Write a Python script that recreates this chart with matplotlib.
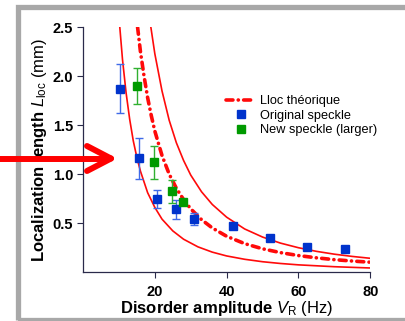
import matplotlib
matplotlib.use("Agg")
import matplotlib.pyplot as plt
from matplotlib.lines import Line2D
from matplotlib.patches import Rectangle

plt.rcParams['font.family'] = ['Liberation Sans', 'DejaVu Sans']
plt.rcParams['mathtext.fontset'] = 'custom'
plt.rcParams['mathtext.rm'] = 'Liberation Sans'
plt.rcParams['mathtext.it'] = 'Liberation Sans:italic'
plt.rcParams['mathtext.bf'] = 'Liberation Sans:bold'
plt.rcParams['lines.scale_dashes'] = False

# measurements: disorder amplitude (Hz), localization length (mm), error (mm)
orig_v = [10.2, 15.5, 20.7, 25.9, 31.0, 41.7, 52.0, 62.4, 73.0]
orig_l = [1.87, 1.16, 0.745, 0.64, 0.54, 0.475, 0.345, 0.255, 0.23]
orig_err = [0.25, 0.21, 0.09, 0.10, 0.06, 0.03, 0.0, 0.0, 0.0]

new_v = [14.9, 19.8, 24.8, 27.9]
new_l = [1.90, 1.12, 0.825, 0.715]
new_err = [0.18, 0.165, 0.12, 0.0]

# theory curve and its bounds
th_v = [15.2, 16, 17, 18, 19, 20, 22, 24, 26, 28, 30, 33, 36, 40, 45, 50, 55, 60, 65, 70, 75, 80]
th_l = [2.5, 2.25, 2.0, 1.78, 1.6, 1.44, 1.19, 1.0, 0.855, 0.74, 0.645, 0.535, 0.45, 0.365,
        0.29, 0.237, 0.198, 0.168, 0.145, 0.126, 0.112, 0.10]

hi_v = [18.9, 20, 22, 24, 26, 28, 30, 33, 36, 40, 45, 50, 55, 60, 65, 70, 75, 80]
hi_l = [2.5, 2.23, 1.85, 1.55, 1.32, 1.14, 0.99, 0.82, 0.69, 0.56, 0.44, 0.357, 0.295,
        0.248, 0.211, 0.182, 0.159, 0.14]

lo_v = [10.25, 11, 12, 13, 14, 15, 16, 18, 20, 22, 25, 28, 32, 36, 40, 45, 50, 55, 60, 70, 80]
lo_l = [2.5, 2.17, 1.83, 1.56, 1.34, 1.17, 1.03, 0.81, 0.66, 0.54, 0.42, 0.335, 0.257,
        0.203, 0.164, 0.13, 0.105, 0.087, 0.073, 0.054, 0.041]

xticks = [20, 40, 60, 80]
yticks = [0.5, 1.0, 1.5, 2.0, 2.5]

W, H = 405, 321
fig = plt.figure(figsize=(W / 100, H / 100), dpi=100)
fig.patch.set_facecolor('white')


def fx(px):
    return px / W


def fy(py):
    return 1 - py / H


# grey slide frame
fig.add_artist(Rectangle((fx(17.5), fy(319.5)), 1.2, fy(7.5) - fy(319.5),
                         transform=fig.transFigure, fill=False,
                         edgecolor='#a8a8a8', linewidth=3.8, zorder=0))

ax = fig.add_axes([fx(83), fy(272), fx(370.3) - fx(83), fy(27.3) - fy(272)])
ax.set_xlim(0, 80)
ax.set_ylim(0, 2.5)

red = '#ff0a0a'
dashdot = (5.0, 3.8, 0.1, 3.8)
ax.plot(hi_v, hi_l, color=red, lw=1.2, zorder=2)
ax.plot(lo_v, lo_l, color=red, lw=1.2, zorder=2)
ax.plot(th_v, th_l, color=red, lw=2.6, dashes=dashdot,
        dash_capstyle='round', zorder=3)

ax.errorbar(orig_v, orig_l, yerr=orig_err, fmt='s', color='#0033cc', ms=5.2,
            ecolor='#3f6ae8', elinewidth=1.0, capsize=3, capthick=1.0, zorder=4)
ax.errorbar(new_v, new_l, yerr=new_err, fmt='s', color='#009a00', ms=5.2,
            ecolor='#30b030', elinewidth=1.0, capsize=3, capthick=1.0, zorder=4)

for side in ['top', 'right']:
    ax.spines[side].set_visible(False)
axis_col = '#2a2a4a'
for side in ['left', 'bottom']:
    ax.spines[side].set_color(axis_col)
    ax.spines[side].set_linewidth(0.9)

ax.set_xticks(xticks)
ax.set_yticks(yticks)
ax.set_xticklabels([str(t) for t in xticks], fontweight='bold', fontsize=10.5)
ax.set_yticklabels(['%.1f' % t for t in yticks], fontweight='bold', fontsize=10.5)
ax.tick_params(axis='both', direction='out', length=4, width=0.8, color=axis_col)
ax.tick_params(axis='x', pad=5)
ax.tick_params(axis='y', pad=3)

ax.set_xlabel(r'$\mathbf{Disorder\ amplitude}\ \mathit{V}_{\mathrm{R}}\ \mathrm{(Hz)}$',
              fontsize=12, labelpad=0)
ax.set_ylabel(r'$\mathbf{Localization\ length}\ \mathit{L}_{\mathrm{loc}}\ \mathrm{(mm)}$',
              fontsize=12, labelpad=3)

handles = [
    Line2D([], [], color=red, lw=2.6, dashes=dashdot, dash_capstyle='round'),
    Line2D([], [], ls='none', marker='s', color='#0033cc', ms=5.2),
    Line2D([], [], ls='none', marker='s', color='#009a00', ms=5.2),
]
labels = ['Lloc théorique', 'Original speckle', 'New speckle (larger)']
fig.legend(handles, labels, loc='upper left', bbox_to_anchor=(fx(226), fy(95)),
           frameon=False, fontsize=9.2, handlelength=2.3, handletextpad=0.4,
           labelspacing=0.2, borderpad=0, borderaxespad=0)

# red pointer arrow on the left
arrow_kw = dict(color='#ff0000', lw=4.3, transform=fig.transFigure, zorder=10)
fig.add_artist(Line2D([fx(0), fx(108)], [fy(158.5), fy(158.5)], solid_capstyle='butt', **arrow_kw))
fig.add_artist(Line2D([fx(87), fx(111)], [fy(146), fy(158.5)], solid_capstyle='round', **arrow_kw))
fig.add_artist(Line2D([fx(87), fx(111)], [fy(171), fy(158.5)], solid_capstyle='round', **arrow_kw))

fig.savefig('out.png', dpi=100, facecolor='white')
